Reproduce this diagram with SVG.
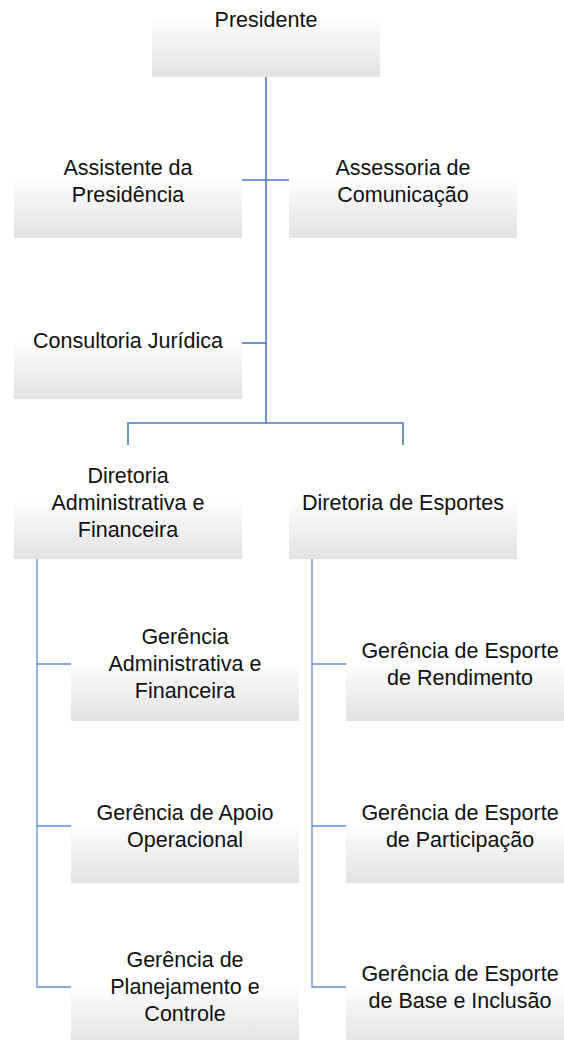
<svg xmlns="http://www.w3.org/2000/svg" width="564" height="1040" viewBox="0 0 564 1040">
<defs>
<linearGradient id="g" x1="0" y1="0" x2="0" y2="1">
<stop offset="0" stop-color="#ffffff"/>
<stop offset="0.48" stop-color="#ffffff"/>
<stop offset="0.62" stop-color="#f6f6f6"/>
<stop offset="1" stop-color="#e2e2e2"/>
</linearGradient>
<style>
.box{fill:url(#g);}
.t{font-family:"Liberation Sans",Arial,sans-serif;font-size:21.5px;fill:#111;text-anchor:middle;}
.c1{fill:none;stroke:#4a7ebb;stroke-width:1.6;}
.c2{fill:none;stroke:#5b8fd0;stroke-width:1.3;}
</style>
</defs>
<rect width="564" height="1040" fill="#ffffff"/>
<g id="connectors">
<path class="c1" d="M266 77 V423" stroke-width="2"/>
<path class="c1" d="M242 180 H289"/>
<path class="c1" d="M242 343 H266"/>
<path class="c1" d="M128 445 V423 H403 V445"/>
<path class="c2" d="M37 559 V987 H71 M37 664 H71 M37 826 H71"/>
<path class="c2" d="M312 559 V987 H346 M312 664 H346 M312 826 H346"/>
</g>
<g id="presidente">
<rect class="box" x="152" y="-37" width="228" height="114"/>
<text class="t" x="266" y="27">Presidente</text>
</g>
<g id="assistente">
<rect class="box" x="14" y="123" width="228" height="115"/>
<text class="t" x="128" y="174.5">Assistente da</text>
<text class="t" x="128" y="201.5">Presidência</text>
</g>
<g id="assessoria">
<rect class="box" x="289" y="123" width="228" height="115"/>
<text class="t" x="403" y="174.5">Assessoria de</text>
<text class="t" x="403" y="201.5">Comunicação</text>
</g>
<g id="consultoria">
<rect class="box" x="14" y="285" width="228" height="114"/>
<text class="t" x="128" y="348">Consultoria Jurídica</text>
</g>
<g id="dir-adm">
<rect class="box" x="14" y="445" width="228" height="114"/>
<text class="t" x="128" y="483">Diretoria</text>
<text class="t" x="128" y="510">Administrativa e</text>
<text class="t" x="128" y="537">Financeira</text>
</g>
<g id="dir-esp">
<rect class="box" x="289" y="445" width="228" height="114"/>
<text class="t" x="403" y="510">Diretoria de Esportes</text>
</g>
<g id="ger-adm">
<rect class="box" x="71" y="607" width="228" height="114"/>
<text class="t" x="185" y="644">Gerência</text>
<text class="t" x="185" y="671">Administrativa e</text>
<text class="t" x="185" y="698">Financeira</text>
</g>
<g id="ger-apoio">
<rect class="box" x="71" y="769" width="228" height="114"/>
<text class="t" x="185" y="819.5">Gerência de Apoio</text>
<text class="t" x="185" y="846.5">Operacional</text>
</g>
<g id="ger-plan">
<rect class="box" x="71" y="930" width="228" height="114"/>
<text class="t" x="185" y="967">Gerência de</text>
<text class="t" x="185" y="994">Planejamento e</text>
<text class="t" x="185" y="1021">Controle</text>
</g>
<g id="ger-rend">
<rect class="box" x="346" y="607" width="228" height="114"/>
<text class="t" x="460" y="657.5">Gerência de Esporte</text>
<text class="t" x="460" y="684.5">de Rendimento</text>
</g>
<g id="ger-part">
<rect class="box" x="346" y="769" width="228" height="114"/>
<text class="t" x="460" y="819.5">Gerência de Esporte</text>
<text class="t" x="460" y="846.5">de Participação</text>
</g>
<g id="ger-base">
<rect class="box" x="346" y="930" width="228" height="114"/>
<text class="t" x="460" y="980.5">Gerência de Esporte</text>
<text class="t" x="460" y="1007.5">de Base e Inclusão</text>
</g>
</svg>
